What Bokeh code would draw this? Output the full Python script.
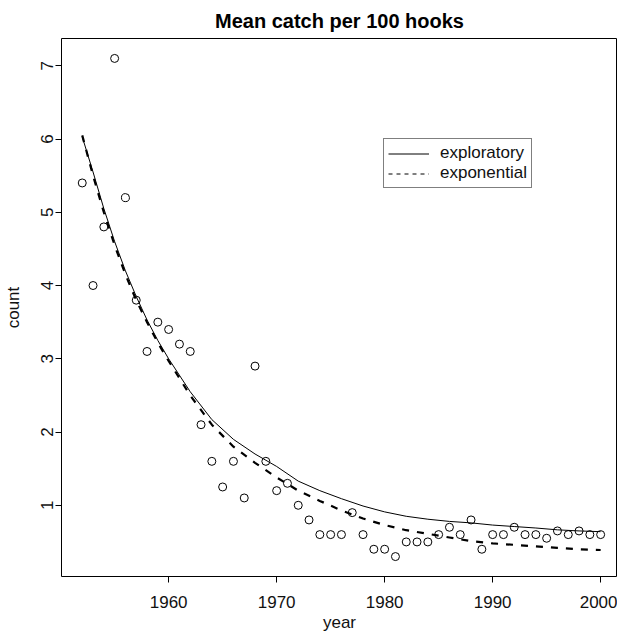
from bokeh.plotting import figure
from bokeh.models import ColumnDataSource, Legend, LegendItem, FixedTicker, Range1d
from bokeh.embed import file_html
from bokeh.resources import INLINE

# ---- data ----
years = list(range(1952, 2001))
counts = [5.4, 4.0, 4.8, 7.1, 5.2, 3.8, 3.1, 3.5, 3.4, 3.2, 3.1, 2.1,
          1.6, 1.25, 1.6, 1.1, 2.9, 1.6, 1.2, 1.3, 1.0, 0.8, 0.6, 0.6,
          0.6, 0.9, 0.6, 0.4, 0.4, 0.3, 0.5, 0.5, 0.5, 0.6, 0.7, 0.6,
          0.8, 0.4, 0.6, 0.6, 0.7, 0.6, 0.6, 0.55, 0.65, 0.6, 0.65, 0.6, 0.6]

curve_years = [1952, 1953, 1954, 1955, 1956, 1957, 1958, 1959, 1960, 1962,
               1964, 1966, 1968, 1970, 1972, 1974, 1976, 1978, 1980, 1982,
               1984, 1986, 1988, 1990, 1992, 1994, 1996, 1998, 2000]
exploratory = [6.03, 5.55, 5.05, 4.6, 4.2, 3.85, 3.53, 3.25, 3.0, 2.55,
               2.17, 1.9, 1.7, 1.53, 1.33, 1.2, 1.09, 0.99, 0.91, 0.85,
               0.81, 0.78, 0.76, 0.73, 0.71, 0.69, 0.665, 0.65, 0.64]
exponential = [6.05, 5.5, 5.0, 4.55, 4.15, 3.8, 3.5, 3.22, 2.97, 2.5,
               2.1, 1.8, 1.58, 1.38, 1.2, 1.06, 0.93, 0.82, 0.73, 0.66,
               0.61, 0.56, 0.51, 0.48, 0.46, 0.44, 0.42, 0.40, 0.39]

x_ticks = [1960, 1970, 1980, 1990, 2000]
y_ticks = [1, 2, 3, 4, 5, 6, 7]
legend_labels = ["exploratory", "exponential"]

FONT = "Liberation Sans"
TXT = "17px"

p = figure(width=617, height=634, output_backend="svg", toolbar_location=None,
           x_range=Range1d(1950.08, 2001.56), y_range=Range1d(0.028, 7.372),
           min_border_left=61, min_border_right=0, min_border_top=38,
           min_border_bottom=56, title="Mean catch per 100 hooks")

p.title.align = "center"
p.title.text_font = FONT
p.title.text_font_size = "20px"
p.title.text_font_style = "bold"
p.title.text_color = "black"
p.title.standoff = 13

p.grid.visible = False
p.outline_line_color = "black"
p.outline_line_width = 1
p.background_fill_color = "white"
p.border_fill_color = "white"

p.xaxis.ticker = FixedTicker(ticks=x_ticks)
p.yaxis.ticker = FixedTicker(ticks=y_ticks)
for ax in (p.xaxis, p.yaxis):
    ax.axis_line_color = None
    ax.major_tick_out = 6
    ax.major_tick_in = 0
    ax.minor_tick_out = 0
    ax.minor_tick_in = 0
    ax.major_tick_line_color = "black"
    ax.major_label_text_font = FONT
    ax.major_label_text_font_size = TXT
    ax.major_label_text_color = "#111111"
    ax.axis_label_text_font = FONT
    ax.axis_label_text_font_size = TXT
    ax.axis_label_text_font_style = "normal"
    ax.axis_label_text_color = "#111111"

p.xaxis.axis_label = "year"
p.yaxis.axis_label = "count"
p.yaxis.major_label_orientation = "vertical"
p.xaxis.major_label_standoff = 13
p.xaxis.axis_label_standoff = 2
p.yaxis.major_label_standoff = 2
p.yaxis.axis_label_standoff = 16

pts = ColumnDataSource(dict(x=years, y=counts))
crv = ColumnDataSource(dict(x=curve_years, a=exploratory, b=exponential))

p.line("x", "a", source=crv, line_color="black", line_width=1)
p.line("x", "b", source=crv, line_color="black", line_width=2.2, line_dash="7 8")
p.scatter("x", "y", source=pts, marker="circle", size=8, fill_color=None,
          line_color="black", line_width=1)

# legend-only keys (R draws legend keys with lwd = 1); a single NaN point draws nothing
nan = float("nan")
key_src = ColumnDataSource(dict(x=[nan], y=[nan]))
leg_a = p.line("x", "y", source=key_src, line_color="black", line_width=1)
leg_b = p.line("x", "y", source=key_src, line_color="black", line_width=1, line_dash="4 4")

legend = Legend(items=[LegendItem(label=legend_labels[0], renderers=[leg_a]),
                       LegendItem(label=legend_labels[1], renderers=[leg_b])],
                location=(322, 388), orientation="vertical")
legend.border_line_color = "black"
legend.border_line_width = 1
legend.background_fill_color = "white"
legend.background_fill_alpha = 1
legend.label_text_font = FONT
legend.label_text_font_size = TXT
legend.label_text_color = "#111111"
legend.glyph_width = 41
legend.glyph_height = 13
legend.label_height = 13
legend.label_standoff = 11
legend.padding = 4
legend.spacing = 0
legend.margin = 0
legend.label_width = 84
p.add_layout(legend, "center")

html = file_html(p, INLINE)
open("out.html", "w").write(html)
